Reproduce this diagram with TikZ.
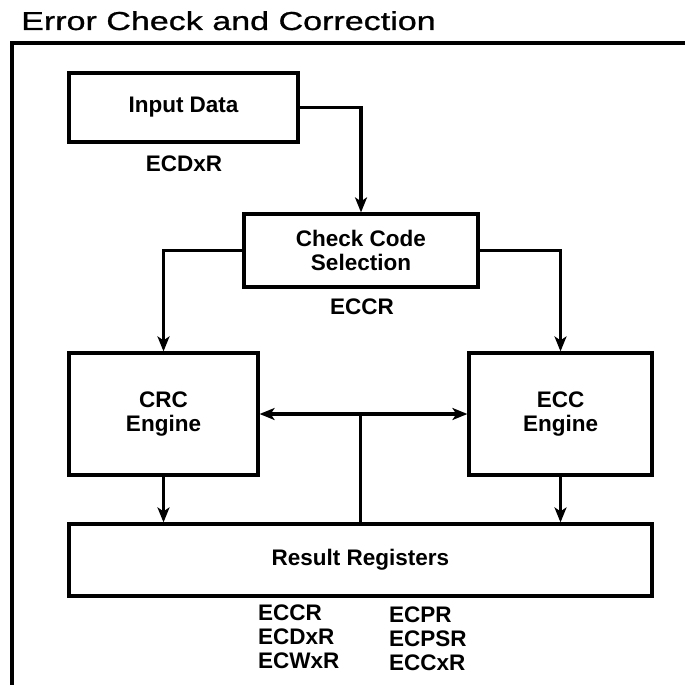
\documentclass[tikz,border=0pt]{standalone}
\usepackage{fontspec}
\setmainfont{Liberation Sans}
\newfontfamily\titlefont[FakeBold=0.8]{Liberation Sans}
\usepackage{tikz}
\usetikzlibrary{shapes,arrows,positioning,calc,arrows.meta}

\begin{document}
\begin{tikzpicture}[x=1pt, y=-1pt,
        box/.style={rectangle, draw=black, line width=3.2pt, font=\bfseries\fontsize{22.5}{24}\selectfont, align=center, inner sep=0pt},
        reglabel/.style={font=\bfseries\fontsize{22.5}{24}\selectfont, align=left, inner sep=0pt},
        arrow/.style={-{Stealth[length=15pt, width=12pt, inset=4pt]}, line width=3.2pt},
        dblarrow/.style={{Stealth[length=15pt, width=12pt, inset=4pt]}-{Stealth[length=15pt, width=12pt, inset=4pt]}, line width=3.2pt},
      ]
      \useasboundingbox (0,0) rectangle (685,685);
      % title and frame
      \node [anchor=base west, inner sep=0pt, font=\titlefont\fontsize{26}{28}\selectfont] (title) at (21,30) {\scalebox{1.31}[1]{Error Check and Correction}};
      \draw [line width=3.2pt] (12,690) |- (690,43);
      % blocks
      \node [box, minimum width=229pt, minimum height=69pt] (input) at (183.5,107.5) {Input Data};
      \node [box, minimum width=234pt, minimum height=73pt] (chksel) at (361,250.5) {Check Code\\Selection};
      \node [box, minimum width=189pt, minimum height=122pt] (crc) at (163.5,414) {CRC\\Engine};
      \node [box, minimum width=183pt, minimum height=122pt] (ecc) at (560.5,414) {ECC\\Engine};
      \node [box, minimum width=583pt, minimum height=72pt] (result) at (360.5,560) {Result Registers};
      % register names
      \node [reglabel] (ecdxr) at (184,164) {ECDxR};
      \node [reglabel] (eccr) at (362,307) {ECCR};
      \node [reglabel, anchor=west] (regsa) at (258,637) {ECCR\\ECDxR\\ECWxR};
      \node [reglabel, anchor=west] (regsb) at (389,639) {ECPR\\ECPSR\\ECCxR};
      % connections
      \draw [arrow] (input.east) -| (chksel.north);
      \draw [arrow] (chksel.west) -| (crc.north);
      \draw [arrow] (chksel.east) -| (ecc.north);
      \draw [dblarrow] (crc.east) -- (ecc.west);
      \coordinate (junc) at (result.north |- crc.east);
      \draw [line width=3.2pt] (result.north) -- (junc);
      \draw [arrow] (crc.south) -- (crc.south |- result.north);
      \draw [arrow] (ecc.south) -- (ecc.south |- result.north);
    \end{tikzpicture}
\end{document}
